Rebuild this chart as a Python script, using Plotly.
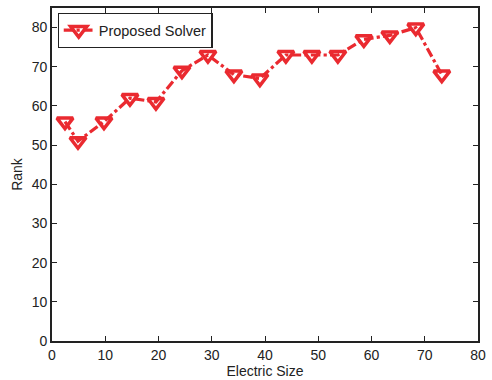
import plotly.graph_objects as go

# Electric size samples and the rank reached by the solver at each
electric_size = [2.44, 4.88, 9.76, 14.64, 19.52, 24.4, 29.28, 34.16,
                 39.04, 43.92, 48.8, 53.68, 58.56, 63.44, 68.32, 73.2]
rank = [56, 51, 56, 62, 61, 69, 73, 68, 67, 73, 73, 73, 77, 78, 80, 68]

series_name = "Proposed Solver"
x_ticks = [0, 10, 20, 30, 40, 50, 60, 70, 80]
y_ticks = [0, 10, 20, 30, 40, 50, 60, 70, 80]

red = "#ea2a30"
font = "Liberation Sans, Arial, Helvetica, sans-serif"

fig = go.Figure()
fig.add_trace(go.Scatter(
    x=electric_size, y=rank, name=series_name, mode="lines+markers",
    line=dict(color=red, width=3.2, dash="dashdot"),
    marker=dict(symbol="triangle-down-open", size=14, color=red,
                line=dict(color=red, width=3.5)),
))

axis_common = dict(
    showgrid=False, zeroline=False, showline=True, mirror="allticks",
    linecolor="#222222", linewidth=1.6, ticks="inside", ticklen=5,
    tickcolor="#222222", tickfont=dict(family=font, size=14, color="#222222"),
)
fig.update_xaxes(range=[0, 80], tickvals=x_ticks,
                 title=dict(text="Electric Size", standoff=2,
                            font=dict(family=font, size=14, color="#222222")),
                 **axis_common)
fig.update_yaxes(range=[0, 85], tickvals=y_ticks,
                 title=dict(text="Rank", standoff=6,
                            font=dict(family=font, size=14, color="#222222")),
                 **axis_common)

fig.update_layout(
    width=492, height=380,
    margin=dict(l=52, r=13, t=6, b=38),
    paper_bgcolor="white", plot_bgcolor="white",
    showlegend=True,
    legend=dict(x=0.013, y=0.985, xanchor="left", yanchor="top",
                bgcolor="white", bordercolor="#222222", borderwidth=1.2,
                font=dict(family=font, size=14.5, color="#222222"),
                itemwidth=30, tracegroupgap=0),
)

fig.write_html("out.html")
